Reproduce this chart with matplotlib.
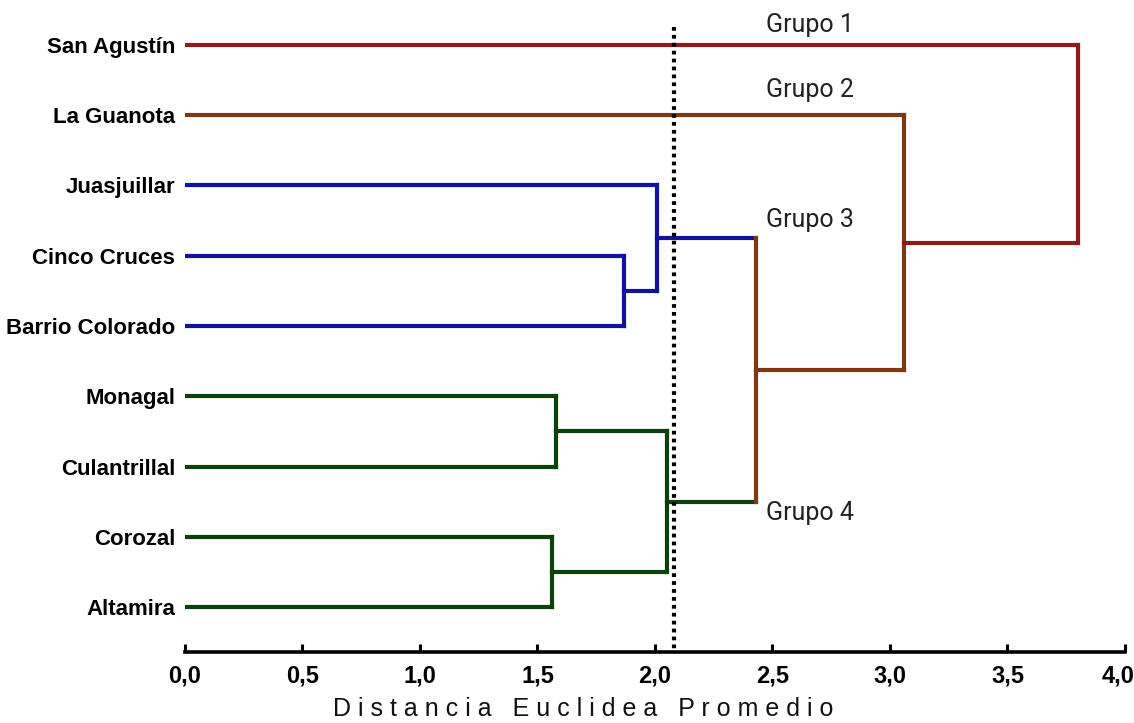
#dendrogram of localities, average euclidean distance, cut at 2.08 -> 4 groups

import matplotlib
matplotlib.use("Agg")
import matplotlib.pyplot as plt
from matplotlib.transforms import ScaledTranslation

RED = "#8e1b1b"
BROWN = "#7e3812"
BLUE = "#12129a"
GREEN = "#0b420b"

leaves = ["San Agustín", "La Guanota", "Juasjuillar", "Cinco Cruces", "Barrio Colorado",
          "Monagal", "Culantrillal", "Corozal", "Altamira"]
leaf_colors = [RED, BROWN, BLUE, BLUE, BLUE, GREEN, GREEN, GREEN, GREEN]

#merges: (child a, child b, height). ids 0-8 are leaves, 9+ are merges in order
merges = [(3, 4, 1.87), (2, 9, 2.01), (5, 6, 1.58), (7, 8, 1.56), (11, 12, 2.05),
          (10, 13, 2.43), (1, 14, 3.06), (0, 15, 3.80)]
merge_colors = [BLUE, BLUE, GREEN, GREEN, GREEN, BROWN, BROWN, RED]   #vertical link
branch_colors = [BLUE, BLUE, GREEN, GREEN, GREEN, BROWN, RED, RED]   #line up to parent

cutoff = 2.08
group_names = ["Grupo 1", "Grupo 2", "Grupo 3", "Grupo 4"]
xticks = [0.0, 0.5, 1.0, 1.5, 2.0, 2.5, 3.0, 3.5, 4.0]

BOLD = ["Liberation Sans", "DejaVu Sans"]

fig = plt.figure(figsize=(11.34, 7.23), dpi=100)
ax = fig.add_axes([0.1631, 0.0982, 0.8289, 0.9018])

n = len(leaves)
ypos = {i: float(i) for i in range(n)}
xpos = {i: 0.0 for i in range(n)}
bcol = {i: leaf_colors[i] for i in range(n)}

for k, (a, b, h) in enumerate(merges):
    node = n + k
    ypos[node] = (ypos[a] + ypos[b]) / 2
    xpos[node] = h
    bcol[node] = branch_colors[k]
    for c in (a, b):
        ax.plot([xpos[c], h], [ypos[c], ypos[c]], color=bcol[c], lw=3,
                solid_capstyle="projecting", zorder=2)
    ax.plot([h, h], [ypos[a], ypos[b]], color=merge_colors[k], lw=3,
            solid_capstyle="projecting", zorder=2)

ax.plot([cutoff, cutoff], [-0.26, 8.64], color="black", lw=3,
        linestyle=(0, (0.9, 1.0)), zorder=3, clip_on=False)

group_pos = [(2.66, -0.29), (2.66, 0.64), (2.66, 2.49), (2.66, 6.66)]
for name, (gx, gy) in zip(group_names, group_pos):
    ax.text(gx, gy, name, fontsize=18, family=["Roboto", "DejaVu Sans"],
            color="#222222", ha="center", va="center", clip_on=False)

ax.set_xlim(0, 4.0)
ax.set_ylim(8.64, -0.64)

ax.set_yticks(range(n))
ax.set_yticklabels(leaves, family=BOLD, fontweight="bold", fontsize=16)
ax.tick_params(axis="y", length=0, pad=7)

ax.set_xticks(xticks)
ax.set_xticklabels([f"{v:.1f}".replace(".", ",") for v in xticks],
                   family=BOLD, fontweight="bold", fontsize=17)
ax.tick_params(axis="x", direction="in", length=6, width=2.2, pad=9)
last = ax.get_xticklabels()[-1]
last.set_transform(last.get_transform() + ScaledTranslation(-0.07, 0, fig.dpi_scale_trans))

for s in ["top", "right", "left"]:
    ax.spines[s].set_visible(False)
ax.spines["bottom"].set_linewidth(2.6)

label = "   ".join(" ".join(w) for w in ["Distancia", "Euclidea", "Promedio"])
fig.text(0.514, 1 - 709 / 723, label, fontsize=18, family=["Liberation Sans", "DejaVu Sans"],
         ha="center", va="center", color="#111111")

fig.savefig("out.png", dpi=100)
